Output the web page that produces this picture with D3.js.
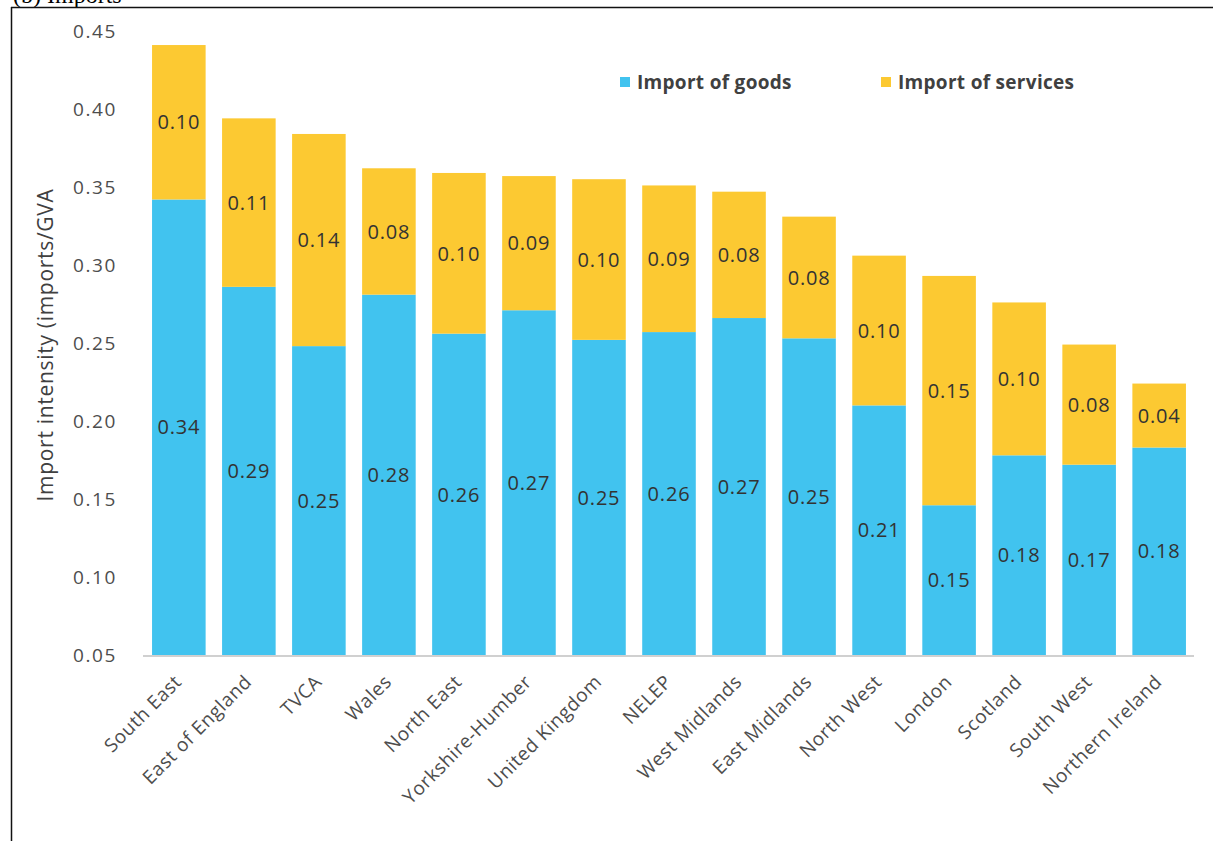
<!DOCTYPE html>
<html>
<head>
<meta charset="utf-8">
<script src="https://cdn.jsdelivr.net/npm/d3@7/dist/d3.min.js"></script>
<style>
html, body { margin: 0; padding: 0; background: #fff; }
svg { display: block; }
text { font-family: "Open Sans", sans-serif; }
</style>
</head>
<body>
<script>
const categories = ["South East","East of England","TVCA","Wales","North East","Yorkshire-Humber","United Kingdom","NELEP","West Midlands","East Midlands","North West","London","Scotland","South West","Northern Ireland"];
const goods =    [0.342,0.286,0.248,0.281,0.256,0.271,0.252,0.257,0.266,0.253,0.210,0.146,0.178,0.172,0.183];
const services = [0.099,0.108,0.136,0.081,0.103,0.086,0.103,0.094,0.081,0.078,0.096,0.147,0.098,0.077,0.041];
const yTicks = [0.05,0.10,0.15,0.20,0.25,0.30,0.35,0.40,0.45];
const seriesNames = ["Import of goods","Import of services"];
const colors = ["#41c3ef","#fcc932"];

const W = 1213, H = 841;
const svg = d3.select("body").append("svg").attr("width", W).attr("height", H);

// frame and cut-off title
svg.append("text").attr("x", 13).attr("y", 3)
  .style("font-family", "'Liberation Serif', serif").attr("font-size", 24).attr("fill", "#000").text("(b) Imports");
svg.append("rect").attr("x", 0).attr("y", 7).attr("width", W).attr("height", H).attr("fill", "#fff");
svg.append("line").attr("x1", 11).attr("x2", W).attr("y1", 7.5).attr("y2", 7.5).attr("stroke", "#111").attr("stroke-width", 1.5);
svg.append("line").attr("x1", 11.5).attr("x2", 11.5).attr("y1", 7).attr("y2", H).attr("stroke", "#111").attr("stroke-width", 1.5);

const x = d3.scaleBand().domain(categories).range([144, 1194]).paddingInner(0.235).paddingOuter(0.115);
const y = d3.scaleLinear().domain([0.05, 0.45]).range([655, 31]);

const data = categories.map((c, i) => ({ c, g: goods[i], s: services[i] }));

// y axis tick labels
const yAxis = d3.axisLeft(y).tickValues(yTicks).tickFormat(d3.format(".2f")).tickSize(0).tickPadding(0);
const ya = svg.append("g").attr("transform", "translate(117,0)").call(yAxis);
ya.select(".domain").remove();
ya.selectAll("text").attr("font-size", 19).attr("fill", "#4d4d4d")
  .style("font-family", "'Open Sans', sans-serif").style("letter-spacing", "1.6px");

// bars
const g = svg.append("g");
g.selectAll("rect.goods").data(data).enter().append("rect")
  .attr("x", d => x(d.c)).attr("width", x.bandwidth())
  .attr("y", d => y(d.g)).attr("height", d => y(0.05) - y(d.g))
  .attr("fill", colors[0]);
g.selectAll("rect.serv").data(data).enter().append("rect")
  .attr("x", d => x(d.c)).attr("width", x.bandwidth())
  .attr("y", d => y(d.g + d.s)).attr("height", d => y(d.g) - y(d.g + d.s))
  .attr("fill", colors[1]);

// value labels
const fmt = d3.format(".2f");
g.selectAll("text.gl").data(data).enter().append("text")
  .attr("x", d => x(d.c) + x.bandwidth() / 2)
  .attr("y", d => (y(0.05) + y(d.g)) / 2).attr("dy", "0.36em")
  .attr("text-anchor", "middle").attr("font-size", 20).attr("fill", "#333")
  .style("letter-spacing", "0.8px")
  .text(d => fmt(d.g));
g.selectAll("text.sl").data(data).enter().append("text")
  .attr("x", d => x(d.c) + x.bandwidth() / 2)
  .attr("y", d => (y(d.g) + y(d.g + d.s)) / 2).attr("dy", "0.36em")
  .attr("text-anchor", "middle").attr("font-size", 20).attr("fill", "#333")
  .style("letter-spacing", "0.8px")
  .text(d => fmt(d.s));

// baseline
svg.append("line").attr("x1", 143).attr("x2", 1194).attr("y1", y(0.05) + 1).attr("y2", y(0.05) + 1)
  .attr("stroke", "#d0d0d0").attr("stroke-width", 2);

// x axis labels
const xAxis = d3.axisBottom(x).tickSize(0).tickPadding(0);
const xa = svg.append("g").attr("transform", `translate(0,${y(0.05)})`).call(xAxis);
xa.select(".domain").remove();
xa.selectAll("text")
  .attr("font-size", 19).attr("fill", "#4d4d4d").style("font-family", "'Open Sans', sans-serif")
  .style("letter-spacing", "0.6px")
  .attr("text-anchor", "end").attr("dy", null).attr("y", 0)
  .attr("transform", "translate(4,28) rotate(-45)");

// y axis title
svg.append("text").attr("transform", "translate(53,345) rotate(-90)")
  .attr("text-anchor", "middle").attr("font-size", 21).attr("fill", "#404040")
  .style("letter-spacing", "0.7px")
  .text("Import intensity (imports/GVA");

// legend
const legX = [620, 881];
seriesNames.forEach((n, i) => {
  svg.append("rect").attr("x", legX[i]).attr("y", 77).attr("width", 10).attr("height", 10).attr("fill", colors[i]);
  svg.append("text").attr("x", legX[i] + 17).attr("y", 89).attr("font-size", 19).attr("font-weight", "bold")
    .style("letter-spacing", "0.3px").attr("fill", "#404040").text(n);
});
</script>
</body>
</html>
